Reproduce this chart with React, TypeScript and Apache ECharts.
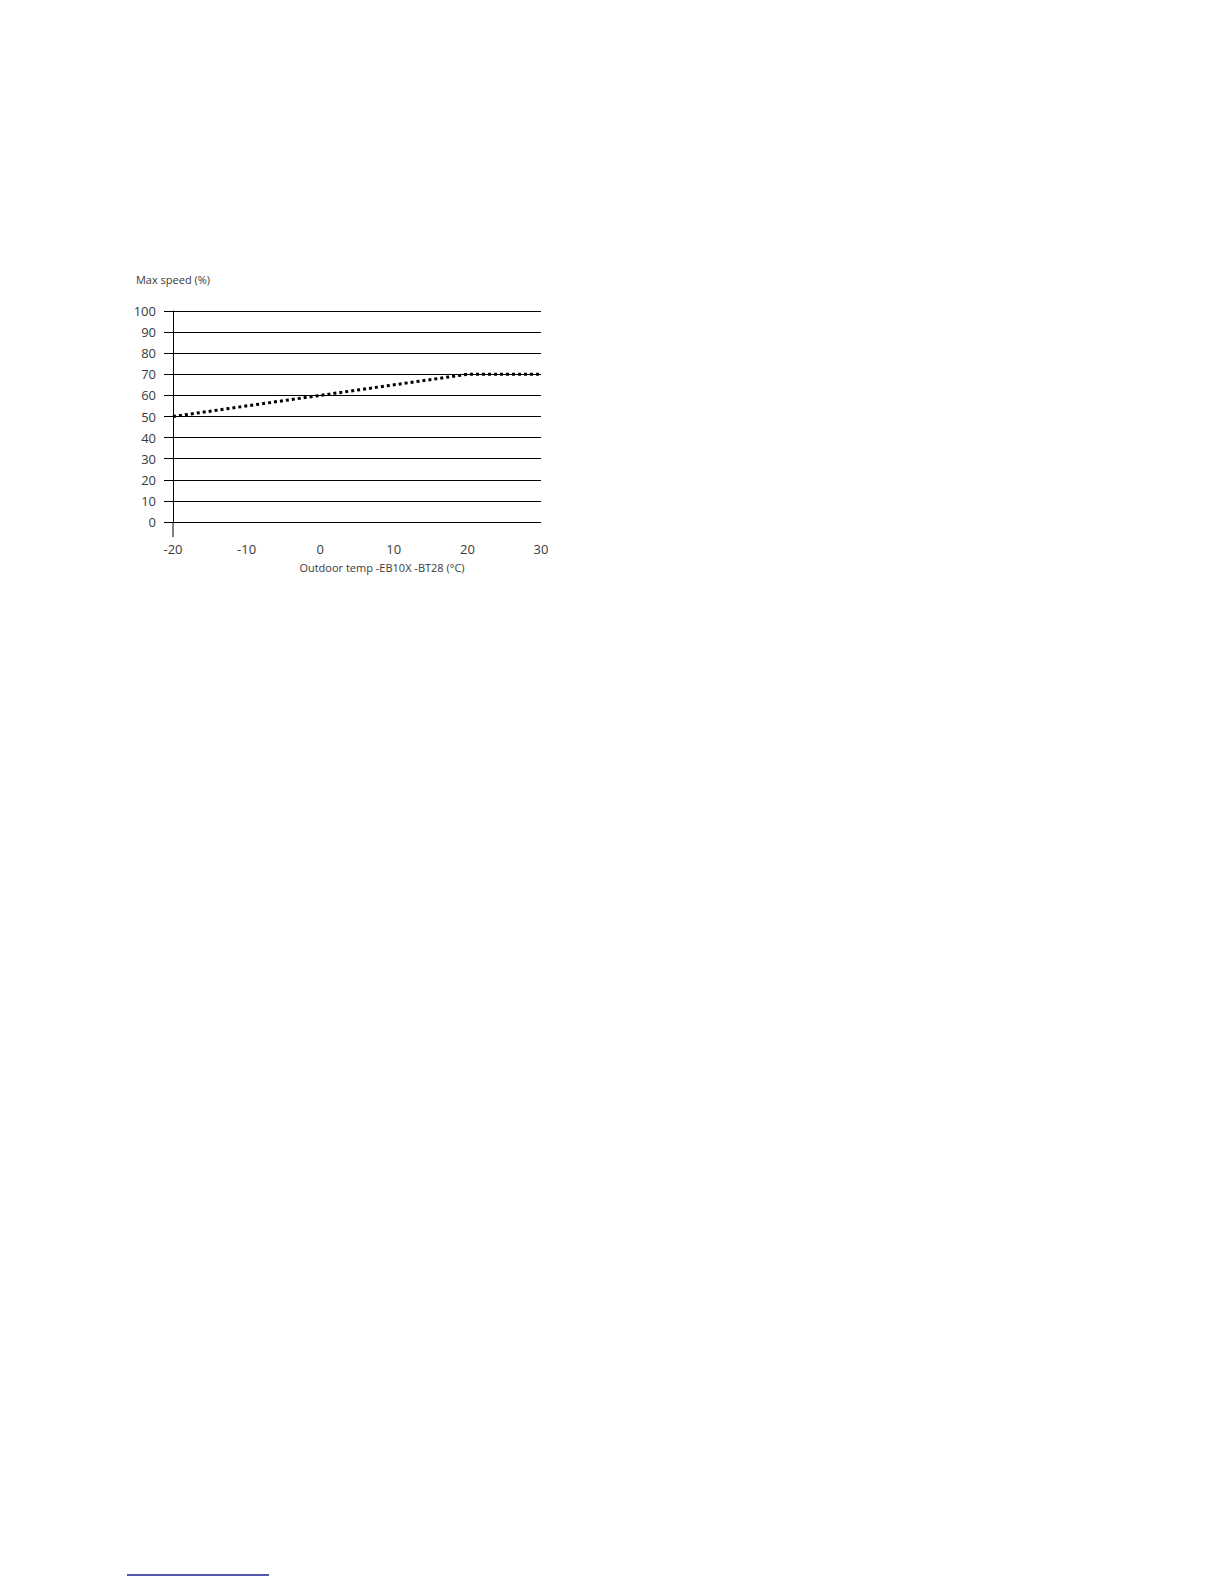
import React, { useEffect, useRef } from 'react';
import * as echarts from 'echarts';

// outdoor temperature (°C) and max compressor speed (%)
const temps = [-20, 20, 30];
const maxSpeed = [50, 70, 70];
const yTicks = [0, 10, 20, 30, 40, 50, 60, 70, 80, 90, 100];
const xTicks = [-20, -10, 0, 10, 20, 30];

const yName = 'Max speed (%)';
const xName = 'Outdoor temp -EB10X -BT28 (°C)';

const GRID = { left: 165, top: 303, width: 368, height: 211 };
const FONT = '"Open Sans", "DejaVu Sans", sans-serif';
const TEXT = '#3a3a3a';

const App = () => {
  const chartRef = useRef<HTMLDivElement>(null);

  useEffect(() => {
    if (!chartRef.current) return;

    const chart = echarts.init(chartRef.current, null, { renderer: 'svg' });
    const bottom = GRID.top + GRID.height;

    chart.setOption({
      animation: false,
      grid: { ...GRID, containLabel: false },
      xAxis: {
        type: 'value',
        min: xTicks[0],
        max: xTicks[xTicks.length - 1],
        interval: 10,
        name: xName,
        nameLocation: 'middle',
        nameGap: 40,
        nameTextStyle: {
          fontFamily: FONT,
          fontSize: 11,
          color: TEXT,
          padding: [0, 0, 0, 50],
        },
        axisLine: { show: false, onZero: false },
        axisTick: { show: false },
        splitLine: { show: false },
        axisLabel: {
          margin: 20,
          fontFamily: FONT,
          fontSize: 13,
          color: TEXT,
        },
      },
      yAxis: {
        type: 'value',
        min: yTicks[0],
        max: yTicks[yTicks.length - 1],
        interval: 10,
        name: yName,
        nameLocation: 'end',
        nameGap: 26,
        nameTextStyle: {
          fontFamily: FONT,
          fontSize: 11,
          color: TEXT,
        },
        axisLine: { show: true, onZero: false, lineStyle: { color: '#000', width: 1 } },
        axisTick: { show: true, length: 9, lineStyle: { color: '#000', width: 1 } },
        splitLine: { show: true, lineStyle: { color: '#000', width: 1 } },
        axisLabel: {
          margin: 17,
          fontFamily: FONT,
          fontSize: 13,
          color: TEXT,
        },
      },
      graphic: [
        {
          type: 'line',
          shape: { x1: GRID.left, y1: bottom, x2: GRID.left, y2: bottom + 15 },
          style: { stroke: '#000', lineWidth: 1 },
        },
        {
          type: 'line',
          shape: { x1: 119, y1: 1567, x2: 261, y2: 1567 },
          style: { stroke: '#1a1f8c', lineWidth: 1.5 },
        },
      ],
      series: [
        {
          type: 'line',
          data: temps.map((t, i) => [t, maxSpeed[i]]),
          symbol: 'none',
          lineStyle: { color: '#000', width: 3, type: 'dotted' },
        },
      ],
    });

    return () => {
      chart.dispose();
    };
  }, []);

  return <div ref={chartRef} style={{ width: 1208, height: 1568 }} />;
};

export default App;
